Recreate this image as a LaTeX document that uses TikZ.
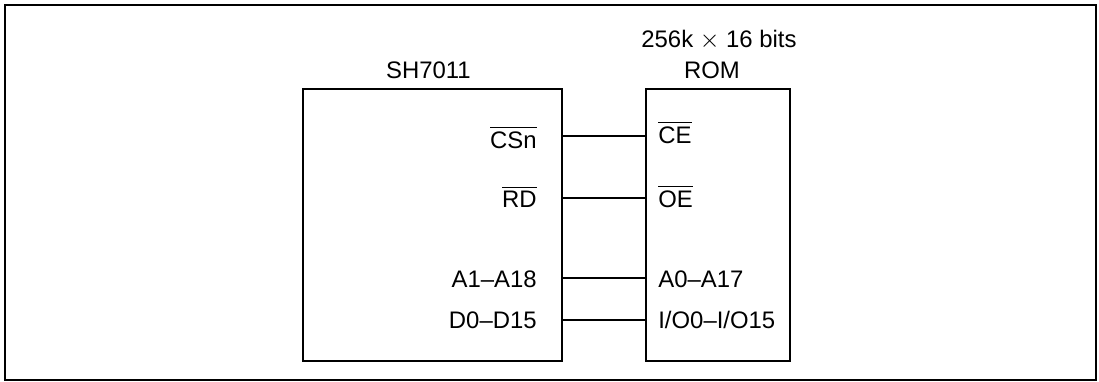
\documentclass[tikz,border=0pt]{standalone}
\usepackage{amsmath}
\usepackage{fontspec}
\setmainfont{Liberation Sans}
\usetikzlibrary{calc}
\tikzset{
	boitier/.style={draw,line width=0.85pt,inner sep=0pt},
	fil/.style={line width=0.6pt},
	etiquette/.style={inner sep=0pt,font=\fontsize{13.6}{15}\selectfont}
}
\newcommand{\Broche}[5]{\coordinate (b#1) at (0,#1);
	\node[etiquette,anchor=base east] (g#1) at (537,#2) {#4};
	\node[etiquette,anchor=base west] (d#1) at (658,#3) {#5};
	\draw[fil] (cpu.east |- b#1) -- (rom.west |- b#1)}
\begin{document}
\begin{tikzpicture}[x=0.2mm,y=-0.2mm]
\useasboundingbox (0,0) rectangle (1099,381);
\draw[line width=1.1pt] (5,5) rectangle (1096,380); % cadre

%Boitiers
\node[boitier,minimum width=51.8mm,minimum height=54.4mm] (cpu) at (432.5,225) {};
\node[boitier,minimum width=28.8mm,minimum height=54.4mm] (rom) at (718,225) {};

%Noms des boitiers
\node[etiquette,anchor=base] (ncpu) at (428.5,78) {SH7011};
\node[etiquette,anchor=base] (nrom) at (712,78) {ROM};
\node[etiquette,anchor=base] (trom) at (719,47) {256k $\times$ 16 bits};

%Liaisons
\Broche{136}{148}{143}{$\overline{\mbox{CSn}}$}{$\overline{\mbox{CE}}$};
\Broche{198}{207}{207}{$\overline{\mbox{RD}}$}{$\overline{\mbox{OE}}$};
\Broche{278}{287}{287}{A1--A18}{A0--A17};
\Broche{320}{328}{328}{D0--D15}{I/O0--I/O15};

\end{tikzpicture}
\end{document}
